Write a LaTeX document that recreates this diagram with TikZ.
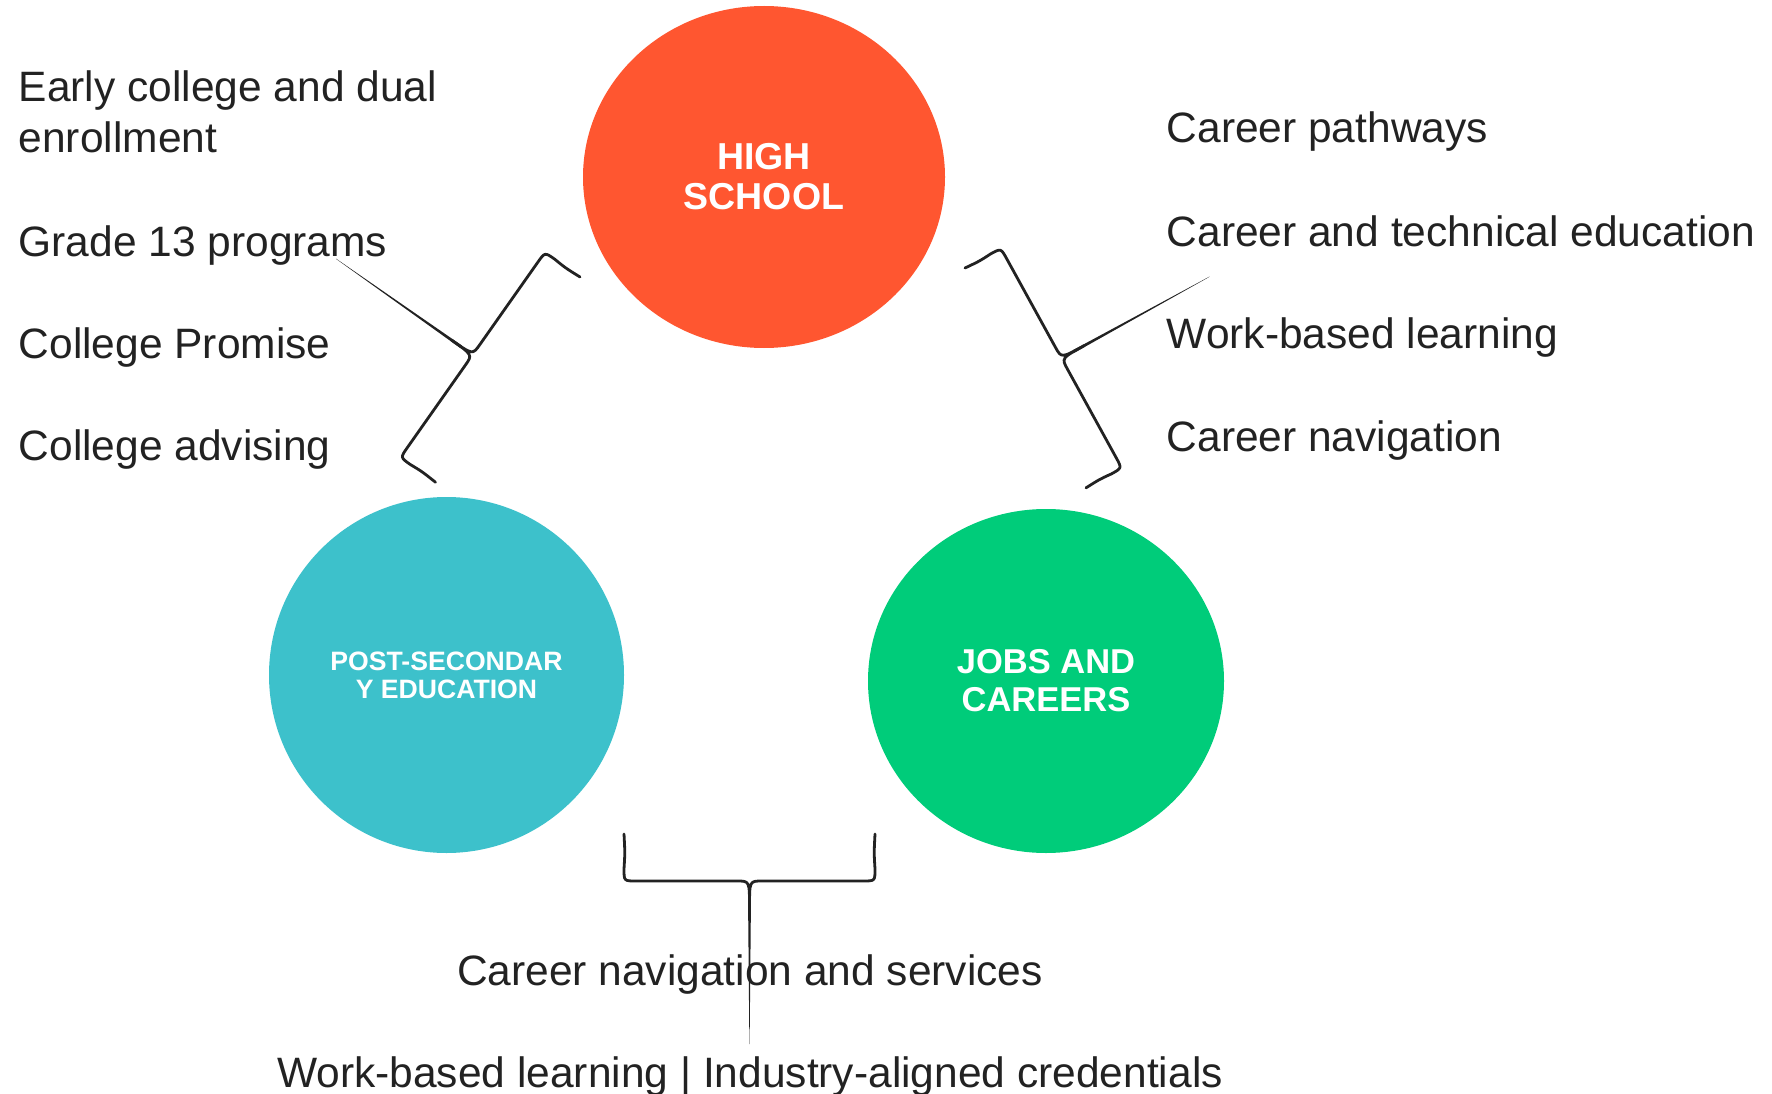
\documentclass[tikz,border=0pt]{standalone}
\usepackage{fontspec}
\setmainfont{Liberation Sans}
\usetikzlibrary{shapes.geometric}
\definecolor{hsorange}{HTML}{FF5630}
\definecolor{psteal}{HTML}{3DC1CB}
\definecolor{jobgreen}{HTML}{00CC7A}
\definecolor{ink}{HTML}{222222}
% #1 = depth of the brace body
\newcommand\mybracebody[1]{%
  \draw[bracestroke] (0,0) .. controls (1,{#1*0.4}) .. (0,{#1-12}) .. controls (0,#1) .. (12,#1) -- (113,#1)
     .. controls (125.5,#1) .. (125.5,{#1+26}) .. controls (125.5,#1) .. (138,#1)
     -- (239,#1) .. controls (251,#1) .. (251,{#1-12}) .. controls (250,{#1*0.4}) .. (251,0);
  \fill[ink] (124,{#1+14}) -- (127,{#1+14}) -- (125.6,210) -- (125.4,210) -- cycle;}
\begin{document}
\begin{tikzpicture}[x=1pt,y=-1pt,
  blob/.style={ellipse, inner sep=0pt, text=white, align=center},
  item/.style={anchor=base west, inner sep=0pt, text=ink, font=\fontsize{42.5}{51}\selectfont},
  itemc/.style={anchor=base, inner sep=0pt, text=ink, font=\fontsize{42.5}{51}\selectfont},
  bracestroke/.style={draw=ink, line width=2.8pt, line cap=round, line join=round},
]
\useasboundingbox (0,0) rectangle (1772,1094);

% circles
\node[blob, fill=hsorange, minimum width=362pt, minimum height=342pt,
      font=\bfseries\fontsize{37.5}{40}\selectfont] (hs) at (764,177) {HIGH\\SCHOOL};
\node[blob, fill=psteal, minimum width=355pt, minimum height=356pt,
      font=\bfseries\fontsize{26.6}{28}\selectfont] (pse) at (446.5,675) {POST-SECONDAR\\Y EDUCATION};
\node[blob, fill=jobgreen, minimum width=356pt, minimum height=344pt,
      font=\bfseries\fontsize{34.5}{38}\selectfont] (jobs) at (1046,681) {JOBS AND\\CAREERS};

% left items
\node[item] (l1a) at (18.5,102) {Early college and dual};
\node[item] (l1b) at (18.5,153) {enrollment};
\node[item] (l2) at (18.5,256) {Grade 13 programs};
\node[item] (l3) at (18.5,358) {College Promise};
\node[item] (l4) at (18.5,460) {College advising};

% right items
\node[item] (r1) at (1166.5,143) {Career pathways};
\node[item] (r2) at (1166.5,246) {Career and technical education};
\node[item] (r3) at (1166.5,348) {Work-based learning};
\node[item] (r4) at (1166.5,451) {Career navigation};

% bottom items
\node[itemc] (b1) at (750,985) {Career navigation and services};
\node[itemc] (b2) at (750,1087) {Work-based learning | Industry-aligned credentials};

% braces
\begin{scope}[shift={(580,277)}, x={(-0.5756pt,-0.8178pt)}, y={(-0.8178pt,0.5756pt)}]
  \mybracebody{43}
\end{scope}
\begin{scope}[shift={(965,268)}, x={(0.482pt,-0.876pt)}, y={(0.876pt,0.482pt)}]
  \mybracebody{41}
\end{scope}
\begin{scope}[shift={(624,834)}, x={(1pt,0pt)}, y={(0pt,-1pt)}]
  \mybracebody{47}
\end{scope}
\end{tikzpicture}
\end{document}
